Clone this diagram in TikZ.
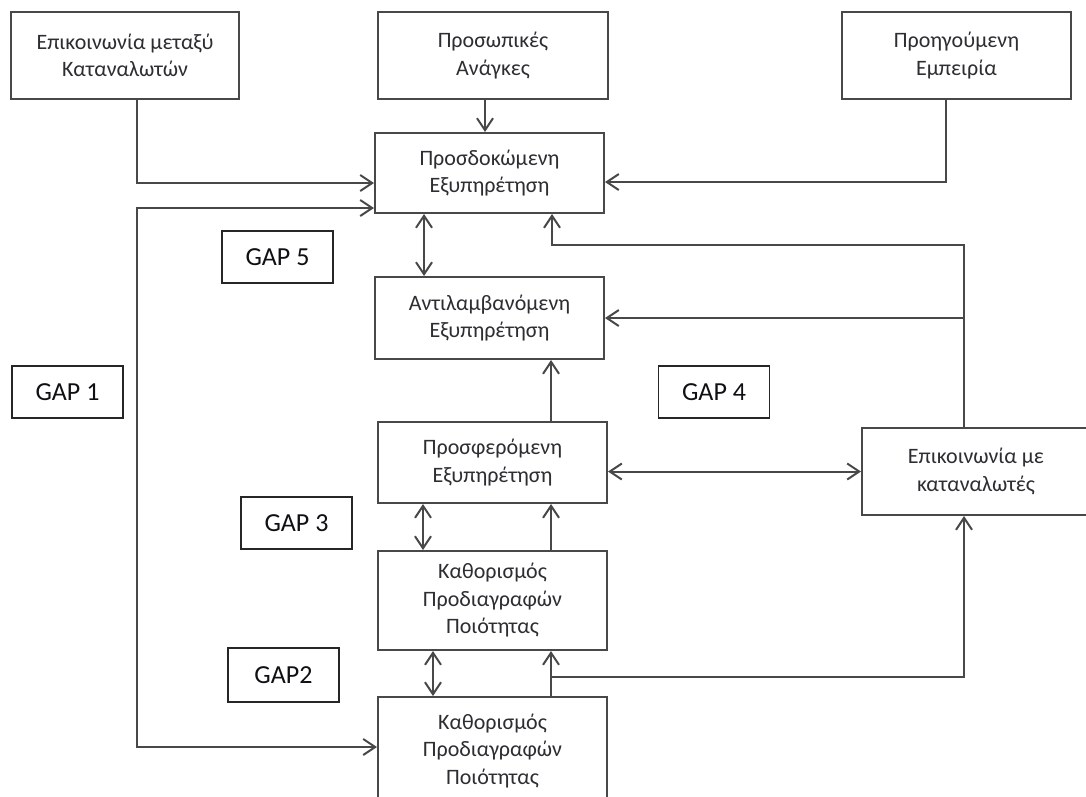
\documentclass[tikz,border=0pt]{standalone}
\usepackage{fontspec}
\setmainfont{Carlito}
\usetikzlibrary{arrows.meta}
\definecolor{linegray}{RGB}{72,72,72}
\definecolor{boxtext}{RGB}{45,45,50}
\definecolor{gaptext}{RGB}{15,15,20}
\tikzset{
  tip/.tip={Straight Barb[length=12pt,width=16pt]},
  conn/.style={draw=linegray, line width=2pt},
  arr/.style={conn, -tip},
  darr/.style={conn, tip-tip},
  block/.style={draw=linegray, line width=2pt, fill=white, align=center,
    inner sep=0pt, text=boxtext, font=\fontsize{22}{27.5}\selectfont},
  gap/.style={draw=black!85, line width=1.8pt, fill=white, inner sep=0pt,
    minimum width=111pt, minimum height=52pt, text=gaptext,
    font=\fontsize{26}{30}\selectfont},
}
\begin{document}
\begin{tikzpicture}[x=1pt, y=-1pt]
\useasboundingbox (0,0) rectangle (1086,796);

% top row: sources of expectations
\node[block, minimum width=228pt, minimum height=87pt] (n1) at (125,55.5)
  {Επικοινωνία μεταξύ\\Καταναλωτών};
\node[block, minimum width=230pt, minimum height=87pt] (n2) at (493,55.5)
  {Προσωπικές\\Ανάγκες};
\node[block, minimum width=229pt, minimum height=87pt] (n3) at (956.5,55.5)
  {Προηγούμενη\\Εμπειρία};

% central column
\node[block, minimum width=229pt, minimum height=80pt] (exp) at (489.5,173)
  {Προσδοκώμενη\\Εξυπηρέτηση};
\node[block, minimum width=229pt, minimum height=82pt] (per) at (489.5,318)
  {Αντιλαμβανόμενη\\Εξυπηρέτηση};
\node[block, minimum width=229pt, minimum height=81pt] (off) at (492.5,462.5)
  {Προσφερόμενη\\Εξυπηρέτηση};
\node[block, minimum width=229pt, minimum height=99pt] (spec1) at (492.5,600.5)
  {Καθορισμός\\Προδιαγραφών\\Ποιότητας};
\node[block, minimum width=229pt, minimum height=108pt] (spec2) at (492.5,751)
  {Καθορισμός\\Προδιαγραφών\\Ποιότητας};

% right-hand box
\node[block, minimum width=228pt, minimum height=87pt] (com) at (976,471.5)
  {Επικοινωνία με\\καταναλωτές};

% gap labels
\node[gap] (gap5) at (277.5,257) {GAP 5};
\node[gap] (gap1) at (67.5,392) {GAP 1};
\node[gap] (gap4) at (714,392) {GAP 4};
\node[gap] (gap3) at (296.5,523) {GAP 3};
\node[gap, minimum height=54pt] (gap2) at (283.5,675) {GAP2};

% inputs to expected service
\draw[arr] ([xshift=12pt]n1.south) |- ([yshift=-10pt]exp.west);
\draw[arr] ([xshift=-8pt]n2.south) -- ([xshift=-8pt]n2.south |- exp.north);
\draw[arr] ([xshift=-10.5pt]n3.south) |- ([yshift=-9pt]exp.east);

% gap 1 loop
\coordinate (lft) at (137,0);
\coordinate (s2in) at ([yshift=4pt]spec2.west);
\draw[darr] ([yshift=-35pt]exp.west) -| (lft |- s2in) -- (s2in);

% expected <-> perceived
\draw[darr] ([xshift=-65.5pt]exp.south) -- ([xshift=-65.5pt]exp.south |- per.north);

% external communication feeds expectations and perception
\draw[arr] ([xshift=-12pt]com.north) |- ([xshift=62.5pt,yshift=-31pt]exp.south)
  -- ([xshift=62.5pt]exp.south);
\draw[arr] ([xshift=-12pt]com.north |- per.east) -- (per.east);

% delivered service
\draw[arr] ([xshift=58.5pt]off.north) -- ([xshift=58.5pt]off.north |- per.south);
\draw[darr] (off.east |- com.west) -- (com.west);
\draw[darr] ([xshift=-69.5pt]off.south) -- ([xshift=-69.5pt]off.south |- spec1.north);
\draw[arr] ([xshift=58.5pt]spec1.north) -- ([xshift=58.5pt]spec1.north |- off.south);

% specifications
\draw[darr] ([xshift=-59.5pt]spec1.south) -- ([xshift=-59.5pt]spec1.south |- spec2.north);
\draw[arr] ([xshift=58.5pt]spec2.north) -- ([xshift=58.5pt]spec2.north |- spec1.south);
\draw[arr] ([xshift=58.5pt,yshift=19pt]spec2.north) -| ([xshift=-12pt]com.south);
\end{tikzpicture}
\end{document}
